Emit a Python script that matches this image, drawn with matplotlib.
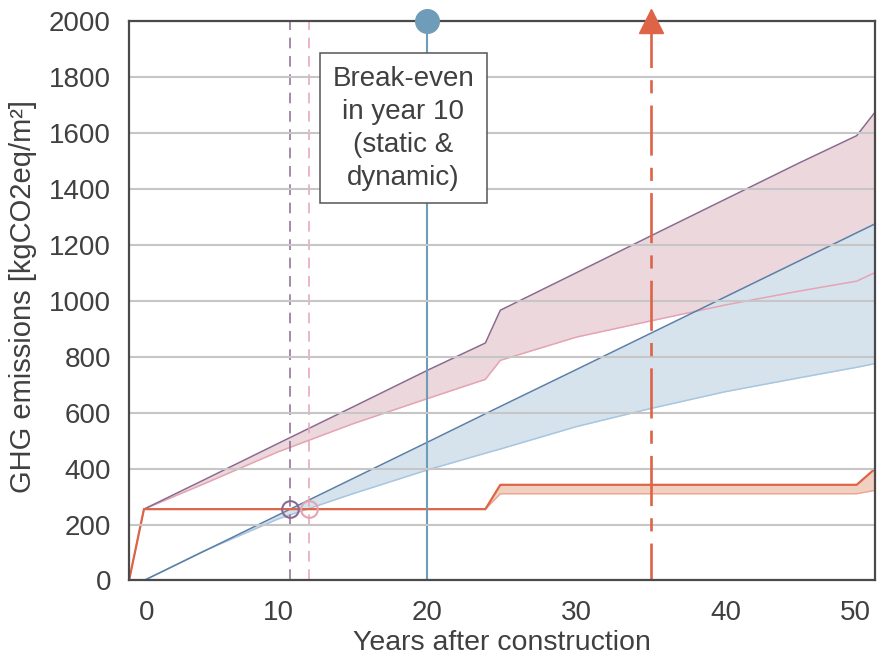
import numpy as np
import matplotlib.pyplot as plt

plt.rcParams['font.family'] = ['Liberation Sans', 'DejaVu Sans']

# data
years_red = [0, 1, 23.9, 24.9, 48.8, 50]
red_hi = [0, 255, 255, 342, 342, 398]
red_lo = [0, 255, 255, 310, 310, 322]

years = [1, 5, 10, 15, 20, 23.9, 24.9, 30, 35, 40, 45, 48.8, 50]
purple = [255, 359, 490, 620, 751, 849, 966, 1100, 1232, 1363, 1494, 1590, 1672]
pink = [255, 345, 460, 560, 650, 719, 787, 870, 928, 985, 1035, 1070, 1100]
blue_dark = [0, 104, 234, 364, 494, 596, 622, 754, 884, 1014, 1144, 1243, 1274]
blue_light = [0, 105, 220, 310, 395, 455, 470, 550, 615, 675, 725, 762, 775]

breakeven_static = 10.8
breakeven_dynamic = 12.1
embodied = 255
payback_line = 20
red_arrow = 35

xtick_pos = [1.2, 10, 20, 30, 40, 48.7]
xtick_lab = ['0', '10', '20', '30', '40', '50']

c_red = '#dd6446'
c_purple = '#8a6a8f'
c_pink = '#e6a4b2'
c_blue = '#5b7fa8'
c_lblue = '#a8c6e0'
c_steel = '#6e9cb9'
c_text = '#404040'

fig = plt.figure(figsize=(8.85, 6.56), dpi=100)
ax = fig.add_axes([0.1458, 0.1151, 0.8424, 0.8529])

# bands
ax.fill_between(years, pink, purple, color='#ecd7dd', lw=0, zorder=1)
ax.fill_between(years, blue_light, blue_dark, color='#d6e3ed', lw=0, zorder=1)
ax.fill_between(years_red, red_lo, red_hi, color='#f1d0c2', lw=0, zorder=1)

ax.plot(years, pink, color=c_pink, lw=1.1, zorder=2)
ax.plot(years, purple, color=c_purple, lw=1.1, zorder=2)
ax.plot(years, blue_light, color=c_lblue, lw=1.1, zorder=2)
ax.plot(years, blue_dark, color=c_blue, lw=1.1, zorder=2)
ax.plot(years_red, red_lo, color='#eaa690', lw=1.0, zorder=2)
ax.plot(years_red, red_hi, color=c_red, lw=1.6, zorder=2)

# vertical markers
ax.plot([payback_line, payback_line], [0, 2000], color=c_steel, lw=1.5, zorder=2)
ax.plot([payback_line], [2000], 'o', color=c_steel, ms=17, clip_on=False, zorder=6)

ax.plot([red_arrow, red_arrow], [0, 1985], color=c_red, lw=1.9, zorder=3,
        linestyle=(5, (19, 4.6, 5, 4.6)))
ax.plot([red_arrow], [2000], '^', color=c_red, ms=17.5, clip_on=False, zorder=6)

ax.plot([breakeven_static] * 2, [0, 2000], color=c_purple, lw=1.1,
        linestyle=(0, (7, 5)), zorder=2)
ax.plot([breakeven_dynamic] * 2, [0, 2000], color=c_pink, lw=1.1,
        linestyle=(0, (7, 5)), zorder=2)
ax.plot([breakeven_static], [embodied], 'o', mfc='none', mec=c_purple, mew=1.5,
        ms=12, zorder=4)
ax.plot([breakeven_dynamic], [embodied], 'o', mfc='none', mec=c_pink, mew=1.5,
        ms=12, zorder=4)

ax.text(18.4, 1617, 'Break-even\nin year 10\n(static &\ndynamic)', fontsize=20,
        color=c_text, ha='center', va='center', zorder=5, linespacing=1.35,
        bbox=dict(boxstyle='square,pad=0.45', fc='white', ec='#555555', lw=1.1))

# axes styling
ax.set_xlim(0, 50)
ax.set_ylim(0, 2000)
ax.set_yticks(np.arange(0, 2001, 200))
ax.set_xticks(xtick_pos)
ax.set_xticklabels(xtick_lab)
ax.set_xticks([10, 20, 30, 40], minor=True)
ax.tick_params(which='both', length=0, labelsize=20, labelcolor=c_text)
ax.tick_params(axis='y', pad=13)
ax.tick_params(axis='x', pad=14)

ax.set_axisbelow(False)
ax.yaxis.grid(True, color='#c6c6c6', lw=1.5)
ax.xaxis.grid(True, which='minor', color='#b8b8b8', lw=1.6)
ax.xaxis.grid(False, which='major')

for s in ax.spines.values():
    s.set_color('#4a4a4a')
    s.set_linewidth(1.6)
    s.set_zorder(5)

ax.set_xlabel('Years after construction', fontsize=20.5, color=c_text, labelpad=3)
ax.set_ylabel('GHG emissions [kgCO2eq/m²]', fontsize=21, color=c_text)
ax.yaxis.set_label_coords(-0.123, 0.507)

fig.savefig('out.png', dpi=100)
